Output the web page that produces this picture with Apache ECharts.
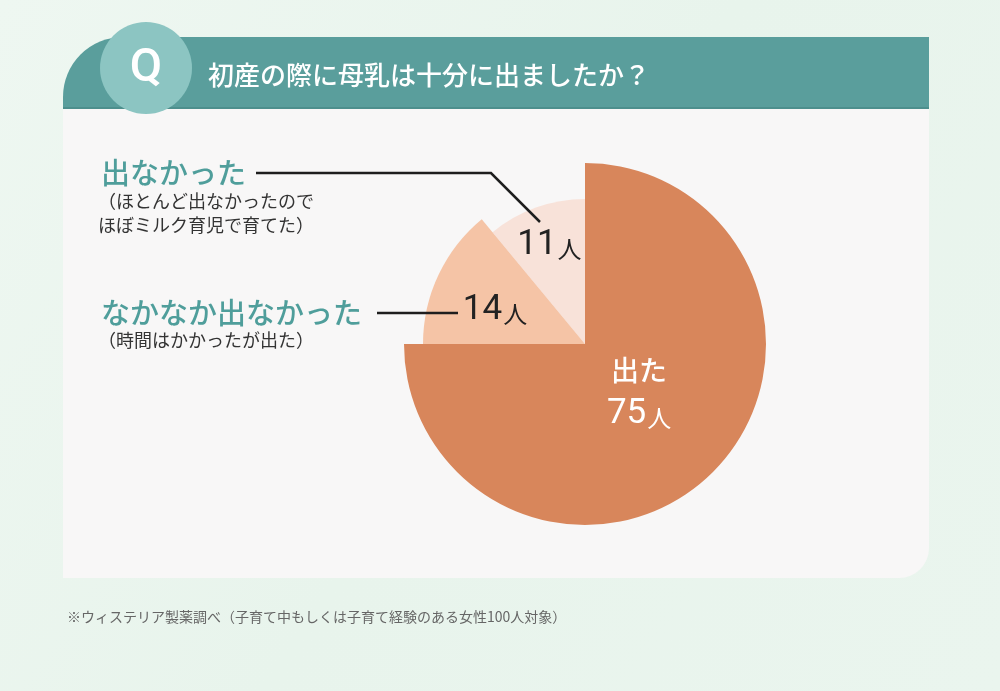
<!DOCTYPE html>
<html><head><meta charset="utf-8">
<script src="https://cdn.jsdelivr.net/npm/echarts@6/dist/echarts.min.js"></script>
<style>html,body{margin:0;padding:0;background:#eaf5ee}#c{width:1000px;height:691px}</style>
</head><body><div id="c"></div>
<script>
const title = '初産の際に母乳は十分に出ましたか？';
const categories = ['出た', 'なかなか出なかった', '出なかった'];
const values = [75, 14, 11];
const unit = '人';
const notes = ['', '（時間はかかったが出た）', '（ほとんど出なかったので\nほぼミルク育児で育てた）'];
const footnote = '※ウィステリア製薬調べ（子育て中もしくは子育て経験のある女性100人対象）';

const colors = ['#d8865b', '#f5c4a6', '#f8e2d9'];
const radii = [181, 162, 145];
const labelShift = [[-12, -18], [-14, 2], [-10, -28]];
const CJK = '"Noto Sans CJK JP", "Noto Sans", sans-serif';
const NUM = 'Roboto, "Noto Sans CJK JP", sans-serif';

const chart = echarts.init(document.getElementById('c'), null, {renderer: 'canvas'});

const series = categories.map((_, si) => ({
  type: 'pie',
  center: [585, 344],
  radius: [0, radii[si]],
  startAngle: 90,
  clockwise: true,
  z: 10 - si,
  silent: true,
  animation: false,
  avoidLabelOverlap: false,
  labelLine: {show: false},
  emphasis: {disabled: true},
  data: categories.map((name, i) => ({
    name, value: values[i],
    itemStyle: {color: i === si ? colors[i] : 'rgba(0,0,0,0)', borderWidth: 0},
    label: i === si ? {
      show: true,
      position: 'inside',
      formatter: i === 0 ? '{a|' + name + '}\n{n|' + values[i] + '}{u|' + unit + '}'
                         : '{n|' + values[i] + '}{u|' + unit + '}',
      rich: {
        a: {fontFamily: CJK, fontSize: 28, color: i === 0 ? '#fff' : '#222', lineHeight: 44, fontWeight: 500},
        n: {fontFamily: NUM, fontSize: 35, color: i === 0 ? '#fff' : '#222', lineHeight: 44},
        u: {fontFamily: CJK, fontSize: 24, color: i === 0 ? '#fff' : '#222', lineHeight: 44, padding: [8, 0, 0, 1]}
      }
    } : {show: false}
  })),
  labelLayout: (p) => p.dataIndex === si ? {dx: labelShift[si][0], dy: labelShift[si][1]} : {}
}));

const teal = '#4f9e9b';
const graphic = [
  {type: 'rect', z: -10, shape: {x: 0, y: 0, width: 1000, height: 691},
   style: {fill: new echarts.graphic.LinearGradient(0, 0, 1, 1, [
     {offset: 0, color: '#eef7f1'}, {offset: 0.5, color: '#e8f4ec'}, {offset: 1, color: '#eaf5ee'}])}},
  {type: 'rect', z: -9, shape: {x: 63, y: 100, width: 866, height: 478, r: [0, 0, 30, 0]}, style: {fill: '#f8f7f7'}},
  {type: 'rect', z: -8, shape: {x: 63, y: 37, width: 866, height: 72, r: [60, 0, 0, 0]}, style: {fill: '#5a9e9c'}},
  {type: 'rect', z: -8, shape: {x: 63, y: 107, width: 866, height: 2}, style: {fill: '#4d8f8d'}},
  {type: 'circle', z: -7, shape: {cx: 146, cy: 68, r: 46}, style: {fill: '#8cc5c2'}},
  {type: 'text', z: -6, x: 146, y: 69, style: {text: 'Q', fill: '#fff', font: '500 47px Roboto, sans-serif', align: 'center', verticalAlign: 'middle'}},
  {type: 'text', z: -6, x: 208, y: 75, style: {text: title, fill: '#fff', font: '500 26px ' + CJK, align: 'left', verticalAlign: 'middle'}},
  {type: 'text', x: 101, y: 173, style: {text: categories[2], fill: teal, font: '500 29px ' + CJK, verticalAlign: 'middle'}},
  {type: 'text', x: 98, y: 189, style: {text: notes[2], fill: '#333', font: '18px ' + CJK, lineHeight: 24, verticalAlign: 'top'}},
  {type: 'text', x: 101, y: 313, style: {text: categories[1], fill: teal, font: '500 29px ' + CJK, verticalAlign: 'middle'}},
  {type: 'text', x: 98, y: 328, style: {text: notes[1], fill: '#333', font: '18px ' + CJK, lineHeight: 24, verticalAlign: 'top'}},
  {type: 'polyline', z: 20, shape: {points: [[256, 173], [491, 173], [540, 222]]}, style: {stroke: '#1e1e1e', lineWidth: 2.5, fill: null}},
  {type: 'polyline', z: 20, shape: {points: [[377, 313], [458, 313]]}, style: {stroke: '#1e1e1e', lineWidth: 2.5, fill: null}},
  {type: 'text', x: 67, y: 617, style: {text: footnote, fill: '#666', font: '14px ' + CJK, verticalAlign: 'middle'}}
];

chart.setOption({animation: false, series, graphic});
</script></body></html>
